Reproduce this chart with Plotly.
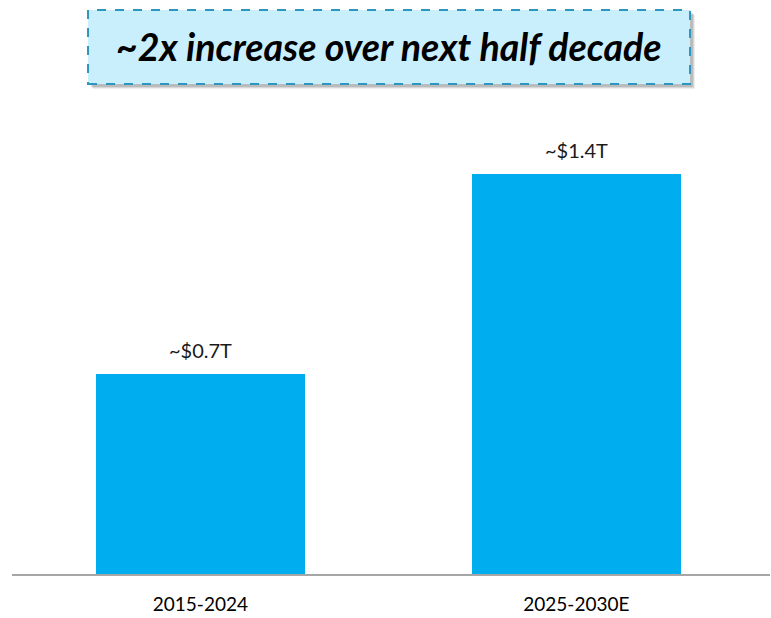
import plotly.graph_objects as go

periods = ["2015-2024", "2025-2030E"]
investment_trillions = [0.7, 1.4]
value_labels = ["~$0.7T", "~$1.4T"]
headline = "~2x increase over next half decade"

BAR_COLOR = "#00AEEF"
FONT = "Lato, 'Open Sans', sans-serif"

fig = go.Figure(
    go.Bar(
        x=periods,
        y=investment_trillions,
        marker=dict(color=BAR_COLOR, line=dict(width=0)),
        width=0.556,
        hoverinfo="skip",
    )
)

# value callouts above each bar
for period, val, lab in zip(periods, investment_trillions, value_labels):
    fig.add_annotation(
        x=period, y=val, text=lab, showarrow=False,
        yanchor="bottom", yshift=10,
        font=dict(family=FONT, size=20, color="#1a1a1a"),
    )

# headline box: soft drop shadow, then dashed light-blue panel
x0, x1, y0, y1 = 0.1003, 0.8945, 1.0338, 1.1899
px_x, px_y = 1 / 758, 1 / 474
for k, op in [(5, 0.10), (4, 0.15), (3, 0.22)]:
    fig.add_shape(
        type="rect", xref="paper", yref="paper",
        x0=x0 + k * px_x, x1=x1 + k * px_x, y0=y0 - k * px_y, y1=y1 - k * px_y,
        line=dict(width=0), fillcolor=f"rgba(90,90,90,{op})", layer="above",
    )
fig.add_shape(
    type="rect", xref="paper", yref="paper",
    x0=x0, x1=x1, y0=y0, y1=y1,
    line=dict(color="#2E95BF", width=2, dash="dash"),
    fillcolor="#C9EEFC", layer="above",
)
fig.add_annotation(
    xref="paper", yref="paper", x=(x0 + x1) / 2, y=(y0 + y1) / 2,
    text=f"<b><i>{headline}</i></b>", showarrow=False,
    xanchor="center", yanchor="middle",
    font=dict(family=FONT, size=37.5, color="#000000"),
)

fig.update_layout(
    width=771, height=618,
    margin=dict(l=12, r=1, t=100, b=44, autoexpand=False),
    paper_bgcolor="white", plot_bgcolor="white",
    showlegend=False,
    bargap=0,
    xaxis=dict(
        type="category", range=[-0.501, 1.515],
        showline=True, linecolor="#A6A6A6", linewidth=2,
        showgrid=False, ticks="", ticklabelstandoff=12,
        tickfont=dict(family=FONT, size=19, color="#000000"),
        fixedrange=True, automargin=False,
    ),
    yaxis=dict(
        range=[0, 1.659], visible=False, showgrid=False, zeroline=False,
        fixedrange=True, automargin=False,
    ),
)

fig.write_html("out.html")
